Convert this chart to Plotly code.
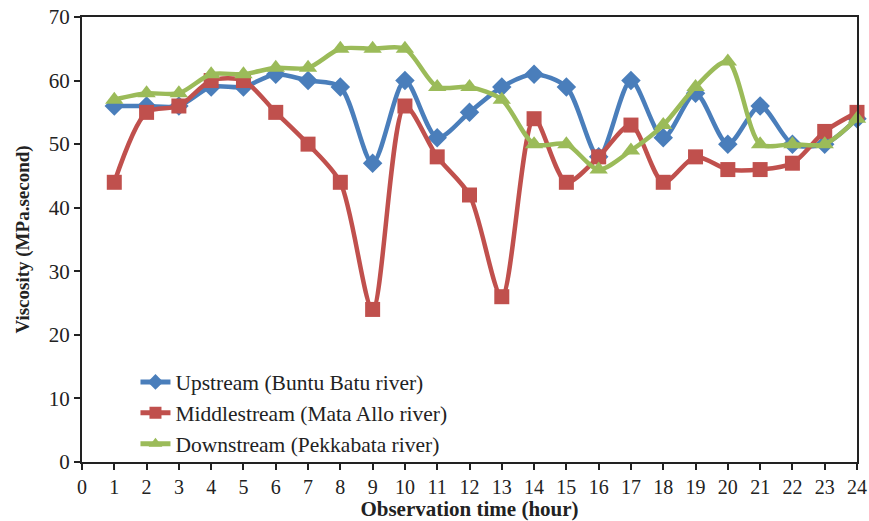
import plotly.graph_objects as go

hours = list(range(1, 25))
upstream = [56, 56, 56, 59, 59, 61, 60, 59, 47, 60, 51, 55, 59, 61, 59, 48, 60, 51, 58, 50, 56, 50, 50, 54]
middlestream = [44, 55, 56, 60, 60, 55, 50, 44, 24, 56, 48, 42, 26, 54, 44, 48, 53, 44, 48, 46, 46, 47, 52, 55]
downstream = [57, 58, 58, 61, 61, 62, 62, 65, 65, 65, 59, 59, 57, 50, 50, 46, 49, 53, 59, 63, 50, 50, 50, 54]

names = ["Upstream (Buntu Batu river)", "Middlestream (Mata Allo river)", "Downstream (Pekkabata river)"]
colors = ["#4A7EBB", "#C0504D", "#9BBB59"]
symbols = ["diamond", "square", "triangle-up"]
sizes = [15, 15, 16]
series = [upstream, middlestream, downstream]

fig = go.Figure()
for name, col, sym, sz, vals in zip(names, colors, symbols, sizes, series):
    fig.add_trace(go.Scatter(
        x=hours, y=vals, name=name, mode="lines+markers",
        line=dict(color=col, width=4.5, shape="spline", smoothing=0.8),
        marker=dict(symbol=sym, size=sz, color=col),
        cliponaxis=False,
    ))

font_family = "Liberation Serif, Times New Roman, serif"
fig.update_layout(
    width=869, height=521,
    margin=dict(l=82, r=12, t=17, b=59),
    paper_bgcolor="white", plot_bgcolor="white",
    font=dict(family=font_family, size=20, color="#222"),
    showlegend=True,
    legend=dict(x=0.069, y=0.226, xanchor="left", yanchor="top",
                bgcolor="rgba(0,0,0,0)", font=dict(size=21.5, family=font_family, color="#222"),
                tracegroupgap=0, itemsizing="constant"),
    xaxis=dict(range=[0, 24], tickmode="linear", tick0=0, dtick=1, automargin=False,
               showgrid=False, zeroline=False, showline=True, linecolor="#222", linewidth=2,
               mirror=True, ticks="outside", ticklen=6, tickwidth=1.5, tickcolor="#222",
               tickfont=dict(size=20, family=font_family),
               title=dict(text="<b>Observation time (hour)</b>", font=dict(size=21, family=font_family), standoff=0)),
    yaxis=dict(range=[0, 70], tickmode="linear", tick0=0, dtick=10, automargin=False,
               showgrid=False, zeroline=False, showline=True, linecolor="#222", linewidth=2,
               mirror=True, ticks="outside", ticklen=6, tickwidth=1.5, tickcolor="#222",
               tickfont=dict(size=21, family=font_family),
               title=dict(text="<b>Viscosity (MPa.second)</b>", font=dict(size=19, family=font_family), standoff=14)),
)

fig.write_html("out.html")
